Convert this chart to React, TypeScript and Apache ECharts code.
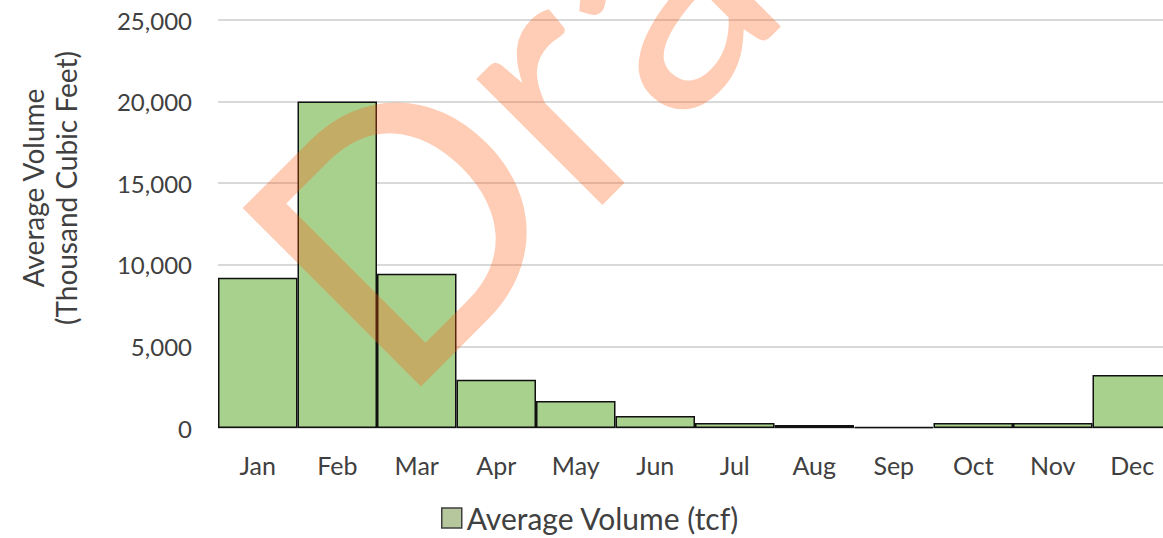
import React, { useEffect, useRef } from "react";
import * as echarts from "echarts";

const months = ["Jan", "Feb", "Mar", "Apr", "May", "Jun", "Jul", "Aug", "Sep", "Oct", "Nov", "Dec"];
const avgVolume = [9200, 20000, 9450, 2950, 1650, 730, 300, 180, 70, 300, 300, 3250];
const seriesName = "Average Volume (tcf)";
const yAxisName = "Average Volume\n(Thousand Cubic Feet)";
const watermark = "Draft";

export default function App() {
  const ref = useRef<HTMLDivElement>(null);
  useEffect(() => {
    if (!ref.current) return;
    const chart = echarts.init(ref.current, undefined, { renderer: "svg" });
    const font = "Lato";
    chart.setOption({
      animation: false,
      backgroundColor: "#ffffff",
      textStyle: { fontFamily: font },
      grid: { left: 218, top: 20, width: 954, bottom: 110, outerBoundsMode: "none", containLabel: false },
      legend: {
        show: true,
        top: 498,
        left: 436,
        itemWidth: 20,
        itemHeight: 20,
        icon: "rect",
        textStyle: { fontFamily: font, fontSize: 30, color: "#404040" },
        itemStyle: { color: "#b6c79e", borderColor: "#404040", borderWidth: 1.5 },
        data: [seriesName],
      },
      xAxis: {
        type: "category",
        data: months,
        axisLine: { show: false },
        axisTick: { show: false },
        axisLabel: { fontFamily: font, fontSize: 25, color: "#404040", margin: 24 },
      },
      yAxis: {
        type: "value",
        min: 0,
        max: 25000,
        interval: 5000,
        name: yAxisName,
        nameLocation: "middle",
        nameGap: 136,
        nameTextStyle: {
          fontFamily: font,
          fontSize: 28,
          color: "#404040",
          lineHeight: 33,
          padding: [0, 0, 0, 72],
        },
        axisLine: { show: false },
        axisTick: { show: false },
        splitLine: { lineStyle: { color: "#d9d9d9", width: 2 } },
        axisLabel: {
          fontFamily: font,
          fontSize: 24,
          color: "#404040",
          margin: 26,
          formatter: (v: number) => v.toLocaleString("en-US"),
        },
      },
      series: [
        {
          name: seriesName,
          type: "bar",
          data: avgVolume,
          barCategoryGap: 0,
          barGap: 0,
          itemStyle: { color: "#a9d18e", borderColor: "#111111", borderWidth: 1.5 },
        },
      ],
      graphic: [
        {
          type: "text",
          x: 302,
          y: 313,
          rotation: Math.PI / 4,
          z: 100,
          silent: true,
          style: {
            text: watermark,
            font: `352px ${font}`,
            fill: "rgba(255, 85, 10, 0.3)",
            align: "left",
            verticalAlign: "middle",
          },
        },
      ],
    });
    return () => chart.dispose();
  }, []);
  return (
    <div
      ref={ref}
      style={{ position: "absolute", left: 0, top: 0, width: 1163, height: 538, overflow: "hidden" }}
    />
  );
}
